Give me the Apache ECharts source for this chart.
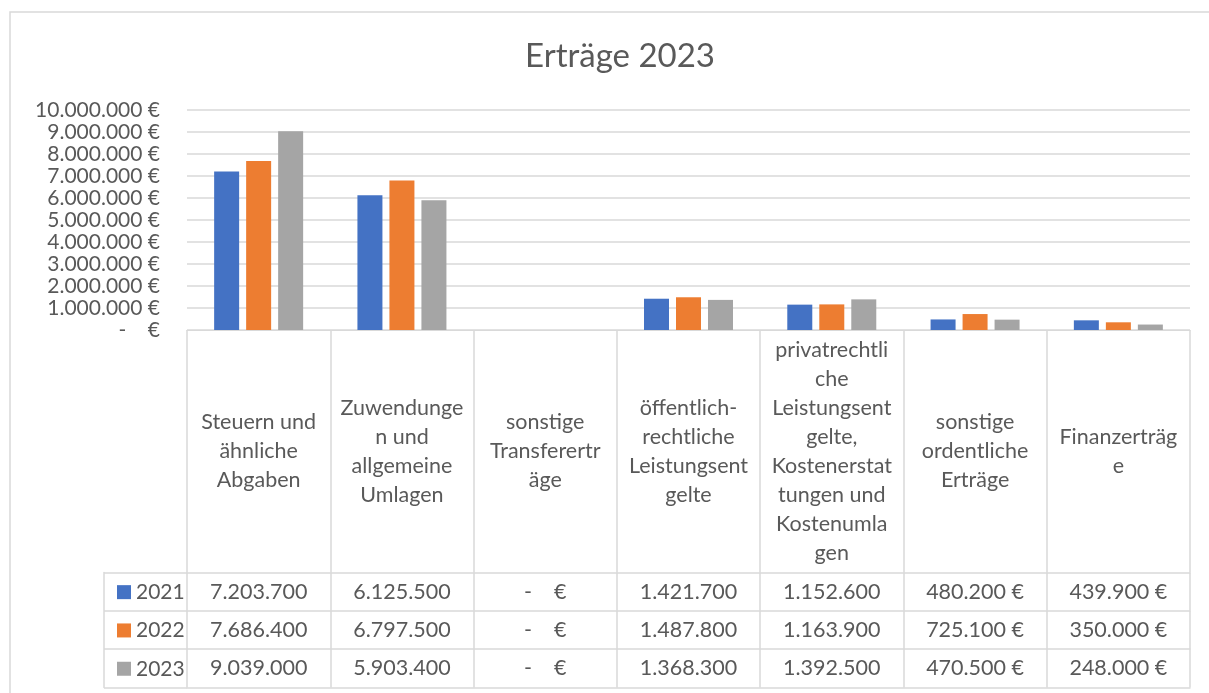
<!DOCTYPE html>
<html>
<head>
<meta charset="utf-8">
<title>Erträge 2023</title>
<script src="https://cdn.jsdelivr.net/npm/echarts@6/dist/echarts.min.js"></script>
<style>
  html, body { margin: 0; padding: 0; background: #fff; }
  #chart { width: 1209px; height: 693px; }
</style>
</head>
<body>
<div id="chart"></div>
<script>
// Kategorien (Zeilenumbrüche wie in der Datentabelle)
const categories = [
    'Steuern und\nähnliche\nAbgaben',
    'Zuwendunge\nn und\nallgemeine\nUmlagen',
    'sonstige\nTransferertr\näge',
    'öffentlich-\nrechtliche\nLeistungsent\ngelte',
    'privatrechtli\nche\nLeistungsent\ngelte,\nKostenerstat\ntungen und\nKostenumla\ngen',
    'sonstige\nordentliche\nErträge',
    'Finanzerträg\ne'
]
const years = ['2021', '2022', '2023']
const values2021 = [7203700, 6125500, 0, 1421700, 1152600, 480200, 439900]
const values2022 = [7686400, 6797500, 0, 1487800, 1163900, 725100, 350000]
const values2023 = [9039000, 5903400, 0, 1368300, 1392500, 470500, 248000]
const colors = ['#4472C4', '#ED7D31', '#A5A5A5']

const FONT = 'Lato'
const TXT = '#595959'
const LINE = '#d9d9d9'

function fmt(v) {
    return String(v).replace(/\B(?=(\d{3})+(?!\d))/g, '.')
}
function axisFmt(v) {
    return v === 0 ? '-    €' : fmt(v) + ' €'
}
function cellFmt(v) {
    if (v === 0) return '-    €'
    return v >= 1000000 ? fmt(v) : fmt(v) + ' €'
}

// Layout
const plotLeft = 187, plotRight = 19
const headTop = 330, headH = 242.5
const rowH = 38.3
const rows = [values2021, values2022, values2023]

const grids = [
    { left: plotLeft, right: plotRight, top: 110, height: 220 },
    { left: plotLeft, right: plotRight, top: headTop, height: headH }
]
rows.forEach((r, i) => {
    grids.push({ left: plotLeft, right: plotRight, top: headTop + headH + rowH * i, height: rowH })
})
// Legendenspalte
grids.push({ left: 104, width: plotLeft - 104, top: headTop + headH, height: rowH * 3 })

const xAxes = [
    {
        type: 'category', gridIndex: 0, data: categories,
        axisLine: { show: true, lineStyle: { color: LINE, width: 1 } },
        axisTick: { show: false }, axisLabel: { show: false }
    },
    {
        type: 'category', gridIndex: 1, data: categories,
        axisLine: { show: true, lineStyle: { color: LINE, width: 1.5 } },
        axisTick: { show: false },
        splitLine: { show: true, interval: 0, lineStyle: { color: LINE, width: 1.5 } },
        axisLabel: {
            interval: 0, margin: -headH / 2, verticalAlign: 'middle',
            fontFamily: FONT, fontSize: 21.5, lineHeight: 29, color: TXT
        }
    }
]
rows.forEach((r, i) => {
    xAxes.push({
        type: 'category', gridIndex: 2 + i, data: r.map(cellFmt),
        axisLine: { show: true, lineStyle: { color: LINE, width: 1.5 } },
        axisTick: { show: false },
        splitLine: { show: true, interval: 0, lineStyle: { color: LINE, width: 1.5 } },
        axisLabel: {
            interval: 0, margin: -rowH / 2, verticalAlign: 'middle',
            fontFamily: FONT, fontSize: 21.5, color: TXT
        }
    })
})
xAxes.push({ type: 'value', gridIndex: 5, show: false })

const yAxes = [
    {
        type: 'value', gridIndex: 0, min: 0, max: 10000000, interval: 1000000,
        axisLine: { show: false }, axisTick: { show: false },
        splitLine: { lineStyle: { color: LINE, width: 1.5 } },
        axisLabel: { formatter: axisFmt, margin: 27, fontFamily: FONT, fontSize: 21, color: TXT }
    }
]
for (let i = 1; i <= 4; i++) {
    yAxes.push({ type: 'value', gridIndex: i, show: false })
}
yAxes.push({
    type: 'category', gridIndex: 5, data: years, inverse: true,
    axisLine: { show: true, lineStyle: { color: LINE, width: 1.5 } },
    axisTick: { show: false }, axisLabel: { show: false },
    splitLine: { show: true, interval: 0, lineStyle: { color: LINE, width: 1.5 } }
})

const option = {
    animation: false,
    color: colors,
    title: {
        text: 'Erträge 2023',
        left: 615,
        textAlign: 'center',
        top: 35,
        textStyle: { fontFamily: FONT, fontSize: 33, fontWeight: 'normal', color: TXT }
    },
    legend: {
        data: years,
        orient: 'vertical',
        left: 112,
        top: headTop + headH + rowH / 2 - 15,
        itemWidth: 14,
        itemHeight: 14,
        itemGap: rowH - 21,
        itemTextGap: 5,
        icon: 'rect',
        textStyle: { fontFamily: FONT, fontSize: 21, lineHeight: 21, color: TXT }
    },
    graphic: [{
        type: 'rect',
        shape: { x: 10, y: 12, width: 1220, height: 700 },
        style: { fill: 'none', stroke: LINE, lineWidth: 1.5 },
        silent: true
    }],
    grid: grids,
    xAxis: xAxes,
    yAxis: yAxes,
    series: [
        { name: '2021', type: 'bar', xAxisIndex: 0, yAxisIndex: 0, data: values2021, barWidth: 25, barGap: '28%' },
        { name: '2022', type: 'bar', xAxisIndex: 0, yAxisIndex: 0, data: values2022, barWidth: 25, barGap: '28%' },
        { name: '2023', type: 'bar', xAxisIndex: 0, yAxisIndex: 0, data: values2023, barWidth: 25, barGap: '28%' }
    ]
}

const chart = echarts.init(document.getElementById('chart'))
chart.setOption(option)
window.addEventListener('resize', () => {
    chart.resize()
})
</script>
</body>
</html>
